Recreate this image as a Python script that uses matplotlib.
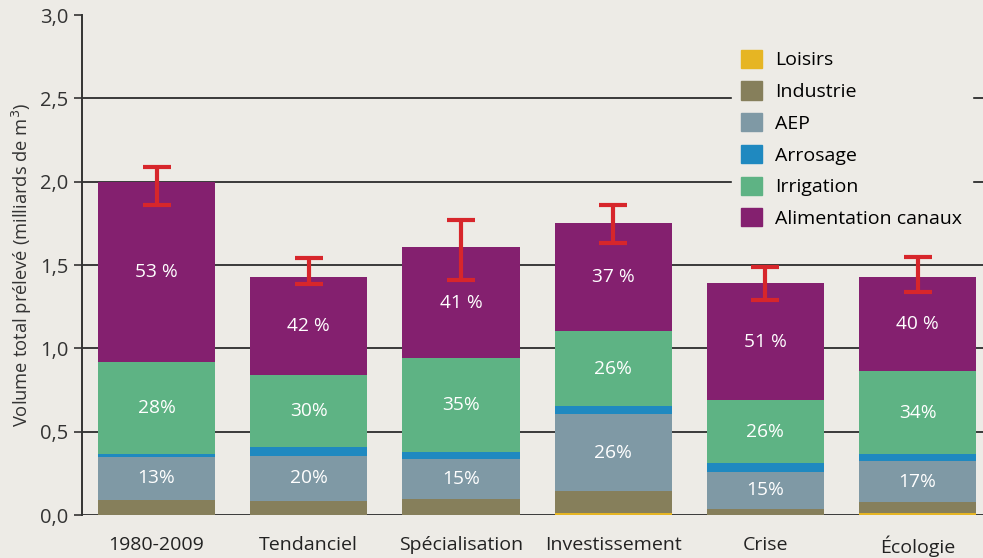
import matplotlib
matplotlib.use("Agg")
import matplotlib.pyplot as plt
import numpy as np
from matplotlib.patches import Patch

plt.rcParams['font.family'] = ['Open Sans', 'DejaVu Sans']

categories = ["1980-2009", "Tendanciel", "Spécialisation", "Investissement", "Crise", "Écologie"]
loisirs = [0.0, 0.0, 0.0, 0.012, 0.0, 0.012]
industrie = [0.09, 0.085, 0.095, 0.13, 0.035, 0.065]
aep = [0.26, 0.27, 0.24, 0.465, 0.225, 0.245]
arrosage = [0.015, 0.055, 0.045, 0.045, 0.05, 0.045]
irrigation = [0.555, 0.43, 0.56, 0.45, 0.38, 0.495]
alimentation = [1.08, 0.59, 0.67, 0.65, 0.70, 0.565]
err_low = [1.86, 1.385, 1.41, 1.63, 1.29, 1.34]
err_high = [2.09, 1.54, 1.77, 1.86, 1.49, 1.55]
pct_alim = ["53 %", "42 %", "41 %", "37 %", "51 %", "40 %"]
pct_irr = ["28%", "30%", "35%", "26%", "26%", "34%"]
pct_aep = ["13%", "20%", "15%", "26%", "15%", "17%"]
yticks = [0.0, 0.5, 1.0, 1.5, 2.0, 2.5, 3.0]
ytick_labels = ["0,0", "0,5", "1,0", "1,5", "2,0", "2,5", "3,0"]

series = [
    ("Loisirs", loisirs, "#E6B523"),
    ("Industrie", industrie, "#867F5B"),
    ("AEP", aep, "#7F99A5"),
    ("Arrosage", arrosage, "#1F89C0"),
    ("Irrigation", irrigation, "#5EB384"),
    ("Alimentation canaux", alimentation, "#84206F"),
]

bg = "#EDEBE6"
fig = plt.figure(figsize=(9.83, 5.58), dpi=100, facecolor=bg)
ax = fig.add_axes([0.0834, 0.077, 0.9166, 0.896])
ax.set_facecolor(bg)

x = np.arange(len(categories))
width = 0.77
bottom = np.zeros(len(categories))
bottoms = {}
for name, vals, col in series:
    vals = np.array(vals)
    bottoms[name] = bottom.copy()
    ax.bar(x, vals, width, bottom=bottom, color=col, zorder=2, linewidth=0)
    bottom = bottom + vals

pct_fs = 13.8
for i in range(len(categories)):
    b = bottoms["Alimentation canaux"][i]
    ax.text(x[i], b + alimentation[i] / 2, pct_alim[i], ha="center", va="center",
            color="white", fontsize=pct_fs, zorder=4)
    b = bottoms["Irrigation"][i]
    ax.text(x[i], b + irrigation[i] / 2, pct_irr[i], ha="center", va="center",
            color="white", fontsize=pct_fs, zorder=4)
    b = bottoms["AEP"][i]
    ax.text(x[i], b + aep[i] / 2, pct_aep[i], ha="center", va="center",
            color="white", fontsize=pct_fs, zorder=4)

lo = np.array(err_low)
hi = np.array(err_high)
mid = (lo + hi) / 2
ax.errorbar(x, mid, yerr=[mid - lo, hi - mid], fmt="none", ecolor="#D7262B",
            elinewidth=3, capsize=10, capthick=3, zorder=5)

for yv in yticks[:-1]:
    ax.axhline(yv, color="#3a3a3a", linewidth=1.4, zorder=1)

ax.set_xlim(-0.49, 5.43)
ax.set_ylim(0, 3.0)
ax.set_yticks(yticks)
ax.set_yticklabels(ytick_labels, fontsize=14.5, color="#333333")
ax.set_xticks(x)
ax.set_xticklabels(categories, fontsize=14, color="#222222")
ax.tick_params(axis="x", length=0, pad=15)
ax.tick_params(axis="y", length=6, width=1.2, color="#333333", direction="out", pad=4)
for s in ["top", "right", "bottom"]:
    ax.spines[s].set_visible(False)
ax.spines["left"].set_color("#333333")
ax.spines["left"].set_linewidth(1.4)
ax.set_ylabel("Volume total prélevé (milliards de m$^3$)", fontsize=13.2, color="#333333", labelpad=4)

handles = [Patch(facecolor=col, edgecolor=col, label=name) for name, vals, col in series]
leg = ax.legend(handles=handles, loc="upper right", bbox_to_anchor=(0.988, 0.95),
                fontsize=14, frameon=True, facecolor=bg, edgecolor=bg, framealpha=1,
                handlelength=1.05, handleheight=1.05, labelspacing=0.62, handletextpad=0.7,
                borderpad=0.5, borderaxespad=0)
leg.set_zorder(6)

fig.savefig("out.png", dpi=100, facecolor=bg)
